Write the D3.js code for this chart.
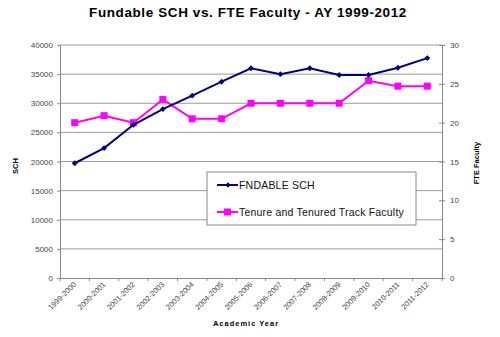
<!DOCTYPE html>
<html><head><meta charset="utf-8">
<script src="https://cdn.jsdelivr.net/npm/d3@7"></script>
<style>body{margin:0;background:#fff}svg{display:block}text{font-family:"Liberation Sans",Arial,sans-serif}</style>
</head><body><svg id="c" width="500" height="337"></svg>
<script>
const years = ["1999-2000","2000-2001","2001-2002","2002-2003","2003-2004","2004-2005","2005-2006","2006-2007","2007-2008","2008-2009","2009-2010","2010-2011","2011-2012"];
const sch = [19700,22300,26300,29000,31300,33700,36000,35000,36000,34850,34850,36100,37750];
const fte = [20,20.9,20,23,20.5,20.5,22.5,22.5,22.5,22.5,25.4,24.7,24.7];
const leftTicks = [0,5000,10000,15000,20000,25000,30000,35000,40000];
const rightTicks = [0,5,10,15,20,25,30];
const seriesNames = ["FNDABLE SCH","Tenure and Tenured Track Faculty"];

const svg = d3.select("#c");
const L=60, R=442, T=45, B=278;
const x = d3.scaleBand().domain(years).range([L,R]);
const yL = d3.scaleLinear().domain([0,40000]).range([B,T]);
const yR = d3.scaleLinear().domain([0,30]).range([B,T]);
const cx = d => x(d)+x.bandwidth()/2;

svg.append("text").attr("x",248).attr("y",17).attr("text-anchor","middle")
  .attr("font-size",13.5).attr("letter-spacing",0.6).attr("font-weight","bold").text("Fundable SCH vs. FTE Faculty - AY 1999-2012");

// gridlines
svg.append("g").selectAll("line").data(leftTicks.filter(d=>d>0)).join("line")
  .attr("x1",L).attr("x2",R).attr("y1",d=>yL(d)).attr("y2",d=>yL(d))
  .attr("stroke","#9a9a9a").attr("stroke-width",1);

// left axis
const gl = svg.append("g").attr("transform",`translate(${L},0)`)
  .call(d3.axisLeft(yL).tickValues(leftTicks).tickSize(3).tickPadding(4).tickFormat(d3.format("d")));
gl.selectAll("text").attr("font-size",8).attr("fill","#444");
gl.selectAll("line,path").attr("stroke","#888");

// right axis
const gr = svg.append("g").attr("transform",`translate(${R},0)`)
  .call(d3.axisRight(yR).tickValues(rightTicks).tickSize(3).tickPadding(5));
gr.selectAll("text").attr("font-size",8).attr("fill","#444");
gr.selectAll("line,path").attr("stroke","#888");
gr.selectAll(".tick line").attr("x1",-3);

// bottom axis
const gb = svg.append("g").attr("transform",`translate(0,${B})`)
  .call(d3.axisBottom(x).tickSize(0).tickFormat(""));
gb.select("path").attr("stroke","#888");
svg.append("g").selectAll("line").data(years.concat([null])).join("line")
  .attr("x1",(d,i)=>L+i*x.step()).attr("x2",(d,i)=>L+i*x.step())
  .attr("y1",B).attr("y2",B+3).attr("stroke","#888");
svg.append("g").selectAll("text").data(years).join("text")
  .attr("transform",d=>`translate(${cx(d)+2},${B+7}) rotate(-45)`)
  .attr("text-anchor","end").attr("font-size",7.5).attr("fill","#444").text(d=>d);

// axis titles
svg.append("text").attr("transform","translate(18,166) rotate(-90)").attr("text-anchor","middle")
  .attr("font-size",7.5).attr("font-weight","bold").text("SCH");
svg.append("text").attr("transform","translate(479,163) rotate(-90)").attr("text-anchor","middle")
  .attr("font-size",7.5).attr("font-weight","bold").text("FTE Faculty");
svg.append("text").attr("x",246).attr("y",326).attr("text-anchor","middle")
  .attr("font-size",7.5).attr("font-weight","bold").attr("letter-spacing",1).text("Academic Year");

// lines
const navy="#000080", mag="#FF00FF";
svg.append("path").datum(fte).attr("fill","none").attr("stroke",mag).attr("stroke-width",2)
  .attr("d",d3.line().x((d,i)=>cx(years[i])).y(d=>yR(d)));
svg.append("g").selectAll("rect").data(fte).join("rect")
  .attr("x",(d,i)=>cx(years[i])-3.5).attr("y",d=>yR(d)-3.5).attr("width",7).attr("height",7).attr("fill",mag);
svg.append("path").datum(sch).attr("fill","none").attr("stroke",navy).attr("stroke-width",2)
  .attr("d",d3.line().x((d,i)=>cx(years[i])).y(d=>yL(d)));
svg.append("g").selectAll("path").data(sch).join("path")
  .attr("transform",(d,i)=>`translate(${cx(years[i])},${yL(d)})`)
  .attr("d",d3.symbol(d3.symbolDiamond2,22)).attr("fill",navy);

// legend
const lg = svg.append("g");
lg.append("rect").attr("x",207).attr("y",172).attr("width",209).attr("height",53)
  .attr("fill","#fff").attr("stroke","#888");
const ly=[185,212];
seriesNames.forEach((n,i)=>{
  lg.append("line").attr("x1",217).attr("x2",238).attr("y1",ly[i]).attr("y2",ly[i])
    .attr("stroke",i?mag:navy).attr("stroke-width",2);
  if(i) lg.append("rect").attr("x",224).attr("y",ly[i]-3.5).attr("width",7).attr("height",7).attr("fill",mag);
  else lg.append("path").attr("transform",`translate(228,${ly[i]})`).attr("d",d3.symbol(d3.symbolDiamond2,18)).attr("fill",navy);
  lg.append("text").attr("x",239).attr("y",ly[i]+3.5).attr("font-size",10.5).attr("letter-spacing",0.2).attr("fill","#111").text(n);
});
</script></body></html>
